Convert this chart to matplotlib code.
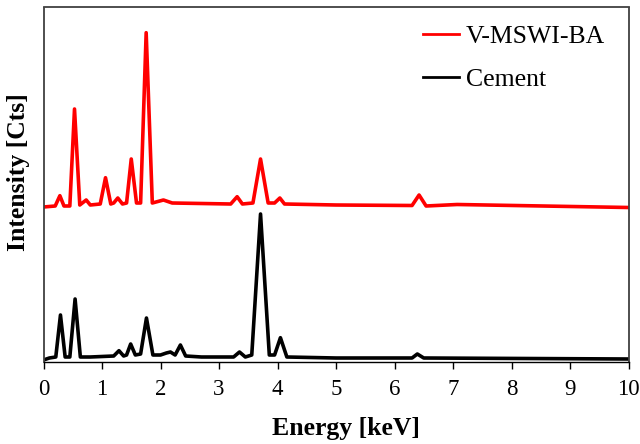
import matplotlib
matplotlib.use("Agg")
import matplotlib.pyplot as plt
import numpy as np

plt.rcParams['font.family'] = ['Liberation Serif', 'DejaVu Serif']
plt.rcParams['mathtext.fontset'] = 'stix'

# ---- Data (intensity in arbitrary counts) ----
# Cement spectrum: energy [keV] and counts
cement_energy = [0.00, 0.10, 0.21, 0.29, 0.37, 0.45, 0.54, 0.63, 0.80, 1.20, 1.29, 1.37,
                 1.42, 1.49, 1.57, 1.66, 1.76, 1.87, 2.00, 2.10, 2.17, 2.25, 2.34, 2.43,
                 2.70, 3.25, 3.35, 3.45, 3.56, 3.71, 3.86, 3.95, 4.05, 4.16, 5.00, 6.30,
                 6.39, 6.50, 10.00]
cement_counts = [20, 40, 50, 470, 50, 50, 630, 50, 50, 60, 113, 60,
                 70, 180, 70, 80, 440, 70, 70, 90, 100, 70, 170, 60,
                 50, 50, 100, 50, 70, 1480, 70, 70, 243, 50, 40, 40,
                 80, 40, 30]

# V-MSWI-BA spectrum (raw counts, plotted with a vertical offset)
bash_energy = [0.00, 0.20, 0.28, 0.35, 0.45, 0.53, 0.62, 0.73, 0.80, 0.97, 1.06, 1.15,
               1.20, 1.27, 1.35, 1.42, 1.50, 1.59, 1.66, 1.755, 1.86, 2.05, 2.20, 3.20,
               3.31, 3.40, 3.58, 3.71, 3.84, 3.95, 4.04, 4.12, 5.00, 6.30, 6.42, 6.54,
               7.07, 10.00]
bash_counts = [50, 60, 163, 60, 60, 1030, 70, 120, 70, 80, 343, 80,
               90, 140, 80, 90, 530, 90, 90, 1793, 90, 120, 90, 80,
               153, 80, 90, 530, 90, 90, 140, 80, 70, 65, 170, 60,
               75, 45]
bash_offset = 1500

series_labels = ['V-MSWI-BA', 'Cement']
series_colors = ['#FF0000', '#000000']
x_ticks = list(range(0, 11))

# ---- Figure ----
fig = plt.figure(figsize=(6.40, 4.44), dpi=100)
ax = fig.add_axes([43.5 / 640, 1 - 362 / 444, 585 / 640, 354.5 / 444])

ax.plot(bash_energy, np.array(bash_counts) + bash_offset, color=series_colors[0],
        lw=2.6, label=series_labels[0], solid_joinstyle='round')
ax.plot(cement_energy, cement_counts, color=series_colors[1],
        lw=2.6, label=series_labels[1], solid_joinstyle='round')

ax.set_xlim(0, 10)
ax.set_ylim(0, 3545)
ax.set_xticks(x_ticks)
ax.set_xticklabels([str(t) for t in x_ticks], fontsize=16.5)
ax.set_yticks([])
ax.tick_params(axis='x', direction='out', length=5, width=1.0, pad=7)

for side in ['left', 'right', 'top']:
    ax.spines[side].set_color('#404040')
    ax.spines[side].set_linewidth(1.3)
ax.spines['bottom'].set_color('#000000')
ax.spines['bottom'].set_linewidth(1.0)

ax.set_xlabel('Energy [keV]', fontsize=18.5, fontweight='bold')
ax.set_ylabel('Intensity [Cts]', fontsize=18.5, fontweight='bold')
ax.xaxis.set_label_coords((346 - 43.5) / 585, -(428 - 362) / 354.5)
ax.yaxis.set_label_coords(-(43.5 - 19) / 585, (362 - 172) / 354.5)
ax.xaxis.label.set_va('center')
ax.yaxis.label.set_va('center')

leg = ax.legend(loc='upper left', bbox_to_anchor=(422.7 / 640, 1 - 25 / 444),
                bbox_transform=fig.transFigure, frameon=False, fontsize=18.5,
                handlelength=1.42, handletextpad=0.25, labelspacing=0.78,
                borderpad=0, borderaxespad=0)
for line in leg.get_lines():
    line.set_linewidth(2.0)

fig.savefig('out.png', dpi=100)
